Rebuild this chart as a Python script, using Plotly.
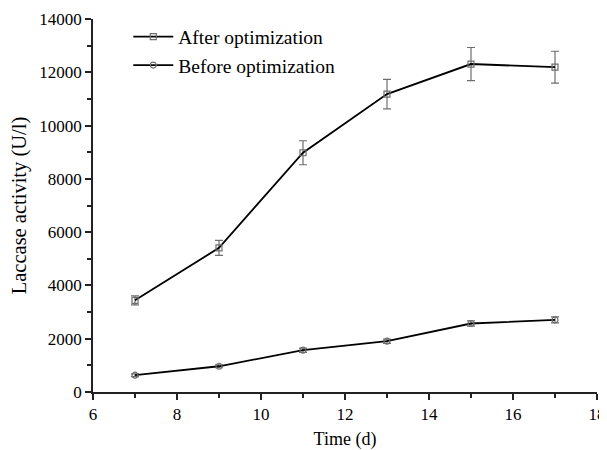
import plotly.graph_objects as go

days = [7, 9, 11, 13, 15, 17]
after_vals = [3440, 5410, 8980, 11180, 12310, 12190]
after_err = [170, 280, 450, 555, 620, 600]
before_vals = [630, 966, 1570, 1906, 2571, 2707]
before_err = [50, 55, 80, 80, 100, 115]

x_ticks = [6, 8, 10, 12, 14, 16, 18]
y_ticks = [0, 2000, 4000, 6000, 8000, 10000, 12000, 14000]

FONT = "Liberation Serif, Times New Roman, serif"
err_style = dict(type="data", thickness=1.2, width=4, color="#6e6e6e")

fig = go.Figure()
fig.add_trace(go.Scatter(
    x=days, y=after_vals, name="After optimization", mode="lines+markers",
    line=dict(color="black", width=1.8),
    marker=dict(symbol="square-open", size=6, color="#6e6e6e", line=dict(width=1.2)),
    error_y=dict(array=after_err, **err_style),
))
fig.add_trace(go.Scatter(
    x=days, y=before_vals, name="Before optimization", mode="lines+markers",
    line=dict(color="black", width=1.8),
    marker=dict(symbol="circle-open", size=6, color="#6e6e6e", line=dict(width=1.2)),
    error_y=dict(array=before_err, **err_style),
))

axis_common = dict(
    showline=True, linecolor="#222", linewidth=1.5, mirror=False,
    ticks="outside", ticklen=6, tickwidth=1.5, tickcolor="#222",
    showgrid=False, zeroline=False, ticklabeloverflow="allow", automargin=False,
    tickfont=dict(family=FONT, size=17, color="black"),
)

fig.update_layout(
    width=599, height=442,
    margin=dict(l=85, r=10, t=11, b=58),
    paper_bgcolor="white", plot_bgcolor="white",
    font=dict(family=FONT, color="black"),
    showlegend=True,
    legend=dict(
        x=0.07, y=1.004, xanchor="left", yanchor="top",
        bgcolor="rgba(0,0,0,0)", font=dict(family=FONT, size=19.5, color="black"),
        tracegroupgap=0, itemwidth=40,
    ),
    xaxis=dict(
        range=[6, 18], tickvals=x_ticks, ticktext=[str(v) for v in x_ticks],
        minor=dict(dtick=1, ticks="outside", ticklen=4, tickwidth=1.5, tickcolor="#222"),
        title=dict(text="Time (d)", font=dict(family=FONT, size=18), standoff=14),
        **axis_common,
    ),
    yaxis=dict(
        range=[0, 14000], tickvals=y_ticks, ticktext=[str(v) for v in y_ticks],
        minor=dict(dtick=1000, ticks="outside", ticklen=4, tickwidth=1.5, tickcolor="#222"),
        title=dict(text="Laccase activity (U/l)", font=dict(family=FONT, size=20.5), standoff=8),
        **axis_common,
    ),
)

fig.write_html("out.html")
